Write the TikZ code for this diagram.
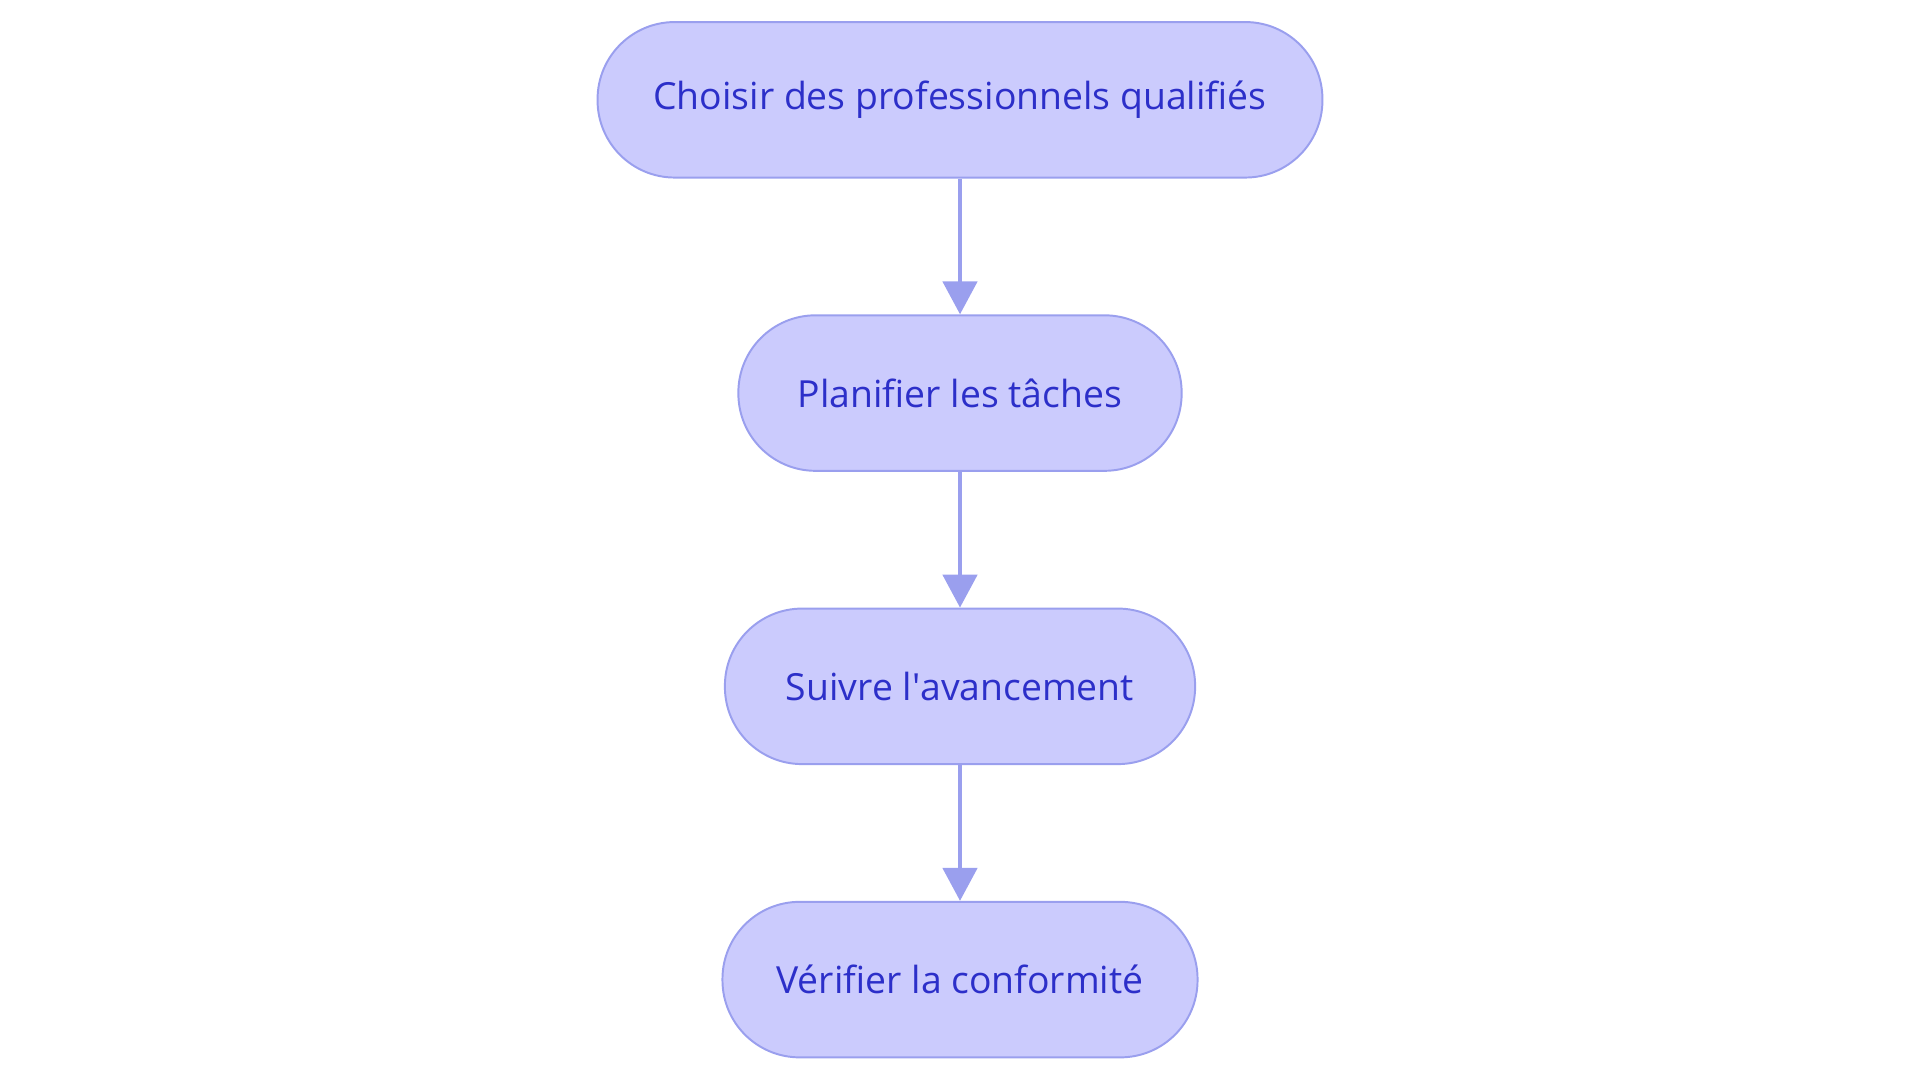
\documentclass[tikz,border=0pt]{standalone}
\usepackage{fontspec}
\setmainfont{Open Sans}
\usetikzlibrary{arrows.meta}
\definecolor{nodefill}{HTML}{CBCBFD}
\definecolor{nodeline}{HTML}{9A9FEE}
\definecolor{nodetext}{HTML}{2C2FC9}
\tikzset{
  pill/.style={draw=nodeline, fill=nodefill, line width=1.6pt, rounded corners=63pt,
    minimum height=127pt, inner sep=0pt, text=nodetext,
    font=\fontsize{30.5pt}{36pt}\selectfont},
  flow/.style={draw=nodeline, line width=3.5pt, -{Triangle[width=28pt,length=27pt]}}
}
\begin{document}
\begin{tikzpicture}[x=1pt,y=1pt]
\useasboundingbox (0,0) rectangle (1568,-884.5);
\node[pill, minimum width=592pt] (n1) at (784,-81.5) {Choisir des professionnels qualifiés};
\node[pill, minimum width=362pt] (n2) at (784,-321) {Planifier les tâches};
\node[pill, minimum width=384pt] (n3) at (784,-560.5) {Suivre l\textquotesingle avancement};
\node[pill, minimum width=388pt] (n4) at (784,-800) {Vérifier la conformité};
\draw[flow] (n1) -- (n2);
\draw[flow] (n2) -- (n3);
\draw[flow] (n3) -- (n4);
\end{tikzpicture}
\end{document}
